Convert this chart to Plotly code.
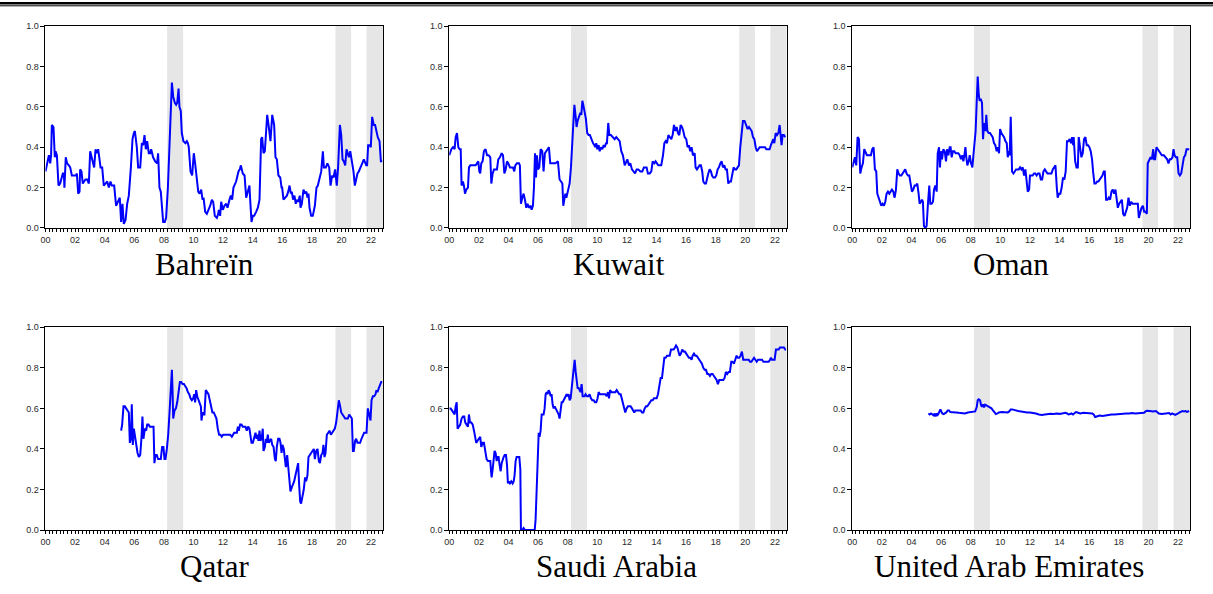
import plotly.graph_objects as go

# Monthly index of (decimal year, value) observations per country
BAHRAIN = [
    (2000.00, 0.28), (2000.09, 0.32), (2000.23, 0.36), (2000.32, 0.32), (2000.38, 0.36), (2000.43, 0.51),
    (2000.54, 0.50), (2000.63, 0.35), (2000.68, 0.38), (2000.77, 0.36), (2000.88, 0.21), (2000.99, 0.22),
    (2001.08, 0.25), (2001.17, 0.27), (2001.24, 0.27), (2001.28, 0.20), (2001.37, 0.35), (2001.46, 0.32),
    (2001.58, 0.31), (2001.67, 0.30), (2001.78, 0.26), (2001.96, 0.26), (2002.07, 0.26), (2002.12, 0.27),
    (2002.21, 0.17), (2002.30, 0.18), (2002.34, 0.29), (2002.43, 0.28), (2002.52, 0.22), (2002.61, 0.23),
    (2002.70, 0.24), (2002.82, 0.24), (2002.93, 0.22), (2003.02, 0.38), (2003.13, 0.35), (2003.22, 0.33),
    (2003.29, 0.30), (2003.38, 0.39), (2003.47, 0.37), (2003.56, 0.39), (2003.65, 0.35), (2003.72, 0.30),
    (2003.83, 0.30), (2003.94, 0.21), (2004.05, 0.22), (2004.17, 0.23), (2004.28, 0.20), (2004.39, 0.23),
    (2004.48, 0.21), (2004.64, 0.21), (2004.77, 0.11), (2004.91, 0.13), (2005.02, 0.15), (2005.11, 0.03),
    (2005.20, 0.12), (2005.29, 0.02), (2005.41, 0.04), (2005.52, 0.12), (2005.63, 0.16), (2005.77, 0.30),
    (2005.88, 0.44), (2005.97, 0.47), (2006.04, 0.48), (2006.17, 0.40), (2006.26, 0.30), (2006.40, 0.30),
    (2006.51, 0.42), (2006.60, 0.41), (2006.69, 0.46), (2006.78, 0.39), (2006.87, 0.43), (2006.98, 0.37),
    (2007.07, 0.37), (2007.14, 0.39), (2007.27, 0.35), (2007.41, 0.33), (2007.54, 0.32), (2007.61, 0.37),
    (2007.70, 0.20), (2007.79, 0.18), (2007.86, 0.10), (2007.95, 0.03), (2008.06, 0.03), (2008.15, 0.05),
    (2008.27, 0.20), (2008.38, 0.45), (2008.54, 0.72), (2008.63, 0.65), (2008.74, 0.62), (2008.83, 0.61),
    (2008.90, 0.62), (2008.99, 0.69), (2009.05, 0.60), (2009.14, 0.58), (2009.21, 0.47), (2009.32, 0.43),
    (2009.46, 0.42), (2009.55, 0.43), (2009.62, 0.42), (2009.68, 0.40), (2009.80, 0.28), (2009.91, 0.26),
    (2010.02, 0.37), (2010.11, 0.32), (2010.20, 0.25), (2010.32, 0.18), (2010.41, 0.17), (2010.52, 0.19),
    (2010.61, 0.14), (2010.68, 0.15), (2010.79, 0.08), (2010.90, 0.07), (2011.01, 0.09), (2011.13, 0.11),
    (2011.24, 0.14), (2011.33, 0.13), (2011.44, 0.06), (2011.58, 0.05), (2011.67, 0.07), (2011.71, 0.09),
    (2011.80, 0.06), (2011.87, 0.13), (2011.98, 0.09), (2012.09, 0.11), (2012.21, 0.12), (2012.30, 0.10),
    (2012.43, 0.14), (2012.52, 0.16), (2012.61, 0.14), (2012.70, 0.20), (2012.88, 0.23), (2013.04, 0.28),
    (2013.13, 0.29), (2013.20, 0.31), (2013.33, 0.27), (2013.45, 0.26), (2013.56, 0.15), (2013.67, 0.18),
    (2013.78, 0.21), (2013.83, 0.14), (2013.92, 0.03), (2014.01, 0.06), (2014.10, 0.06), (2014.23, 0.08),
    (2014.35, 0.10), (2014.46, 0.14), (2014.57, 0.44), (2014.64, 0.45), (2014.73, 0.37), (2014.82, 0.38),
    (2014.89, 0.45), (2014.98, 0.56), (2015.09, 0.50), (2015.20, 0.43), (2015.32, 0.56), (2015.45, 0.51),
    (2015.54, 0.35), (2015.63, 0.34), (2015.74, 0.26), (2015.86, 0.25), (2015.95, 0.20), (2015.99, 0.20),
    (2016.08, 0.14), (2016.22, 0.15), (2016.31, 0.16), (2016.40, 0.18), (2016.49, 0.21), (2016.58, 0.17),
    (2016.64, 0.18), (2016.73, 0.14), (2016.82, 0.16), (2016.91, 0.12), (2017.00, 0.14), (2017.09, 0.13),
    (2017.18, 0.16), (2017.23, 0.10), (2017.32, 0.12), (2017.43, 0.19), (2017.54, 0.17), (2017.63, 0.18),
    (2017.70, 0.15), (2017.77, 0.17), (2017.84, 0.10), (2017.95, 0.06), (2018.06, 0.06), (2018.20, 0.11),
    (2018.31, 0.20), (2018.40, 0.21), (2018.51, 0.25), (2018.63, 0.28), (2018.74, 0.38), (2018.81, 0.30),
    (2018.94, 0.30), (2019.05, 0.32), (2019.17, 0.30), (2019.26, 0.21), (2019.37, 0.26), (2019.46, 0.25),
    (2019.57, 0.29), (2019.68, 0.21), (2019.77, 0.30), (2019.89, 0.51), (2019.98, 0.46), (2020.07, 0.34),
    (2020.16, 0.33), (2020.25, 0.31), (2020.34, 0.39), (2020.43, 0.37), (2020.50, 0.35), (2020.59, 0.38),
    (2020.70, 0.33), (2020.81, 0.28), (2020.90, 0.21), (2020.99, 0.24), (2021.08, 0.27), (2021.17, 0.28),
    (2021.26, 0.30), (2021.40, 0.32), (2021.51, 0.34), (2021.58, 0.33), (2021.67, 0.31), (2021.73, 0.31),
    (2021.80, 0.41), (2021.91, 0.41), (2021.98, 0.40), (2022.07, 0.55), (2022.18, 0.51), (2022.27, 0.51),
    (2022.36, 0.47), (2022.45, 0.45), (2022.57, 0.43), (2022.66, 0.33), (2022.75, 0.33),
]

KUWAIT = [
    (2000.00, 0.36), (2000.14, 0.39), (2000.25, 0.40), (2000.36, 0.39), (2000.43, 0.45), (2000.52, 0.47),
    (2000.61, 0.40), (2000.70, 0.39), (2000.77, 0.39), (2000.83, 0.21), (2000.92, 0.23), (2000.99, 0.21),
    (2001.06, 0.17), (2001.15, 0.19), (2001.26, 0.20), (2001.33, 0.30), (2001.42, 0.31), (2001.60, 0.31),
    (2001.78, 0.31), (2001.87, 0.32), (2001.96, 0.33), (2002.03, 0.28), (2002.09, 0.27), (2002.16, 0.32),
    (2002.25, 0.33), (2002.34, 0.38), (2002.45, 0.39), (2002.55, 0.36), (2002.66, 0.36), (2002.77, 0.35),
    (2002.84, 0.22), (2002.93, 0.27), (2003.02, 0.29), (2003.11, 0.29), (2003.22, 0.29), (2003.31, 0.34),
    (2003.42, 0.35), (2003.54, 0.37), (2003.63, 0.36), (2003.72, 0.27), (2003.81, 0.29), (2003.90, 0.33),
    (2003.99, 0.32), (2004.10, 0.30), (2004.19, 0.30), (2004.30, 0.30), (2004.39, 0.28), (2004.46, 0.31),
    (2004.57, 0.32), (2004.71, 0.32), (2004.77, 0.31), (2004.84, 0.12), (2004.93, 0.15), (2005.02, 0.17),
    (2005.11, 0.14), (2005.20, 0.10), (2005.29, 0.12), (2005.38, 0.10), (2005.50, 0.11), (2005.56, 0.09),
    (2005.65, 0.11), (2005.72, 0.20), (2005.79, 0.37), (2005.86, 0.25), (2005.92, 0.36), (2005.99, 0.29),
    (2006.08, 0.30), (2006.17, 0.39), (2006.28, 0.38), (2006.37, 0.28), (2006.46, 0.37), (2006.55, 0.38),
    (2006.64, 0.39), (2006.73, 0.40), (2006.82, 0.32), (2007.00, 0.32), (2007.18, 0.32), (2007.34, 0.33),
    (2007.45, 0.24), (2007.55, 0.23), (2007.64, 0.22), (2007.70, 0.11), (2007.77, 0.14), (2007.84, 0.17),
    (2007.91, 0.15), (2008.02, 0.18), (2008.13, 0.22), (2008.22, 0.30), (2008.31, 0.45), (2008.38, 0.53),
    (2008.45, 0.61), (2008.54, 0.55), (2008.60, 0.50), (2008.67, 0.53), (2008.76, 0.55), (2008.85, 0.57),
    (2008.92, 0.56), (2008.99, 0.63), (2009.05, 0.61), (2009.14, 0.57), (2009.23, 0.54), (2009.32, 0.47),
    (2009.41, 0.46), (2009.50, 0.46), (2009.59, 0.44), (2009.71, 0.42), (2009.80, 0.41), (2009.86, 0.40),
    (2009.93, 0.42), (2010.00, 0.39), (2010.09, 0.41), (2010.16, 0.38), (2010.25, 0.40), (2010.34, 0.39),
    (2010.43, 0.41), (2010.50, 0.40), (2010.59, 0.42), (2010.65, 0.42), (2010.74, 0.52), (2010.81, 0.46),
    (2010.92, 0.46), (2011.06, 0.45), (2011.17, 0.44), (2011.28, 0.45), (2011.42, 0.44), (2011.51, 0.43),
    (2011.62, 0.38), (2011.73, 0.36), (2011.85, 0.31), (2011.94, 0.33), (2012.03, 0.34), (2012.14, 0.31),
    (2012.23, 0.32), (2012.34, 0.29), (2012.45, 0.28), (2012.55, 0.27), (2012.66, 0.29), (2012.77, 0.29),
    (2012.91, 0.28), (2013.04, 0.28), (2013.15, 0.30), (2013.24, 0.30), (2013.33, 0.30), (2013.42, 0.27),
    (2013.54, 0.27), (2013.65, 0.28), (2013.74, 0.33), (2013.85, 0.32), (2013.94, 0.33), (2014.03, 0.32),
    (2014.12, 0.31), (2014.21, 0.31), (2014.32, 0.31), (2014.44, 0.36), (2014.53, 0.42), (2014.62, 0.43),
    (2014.71, 0.42), (2014.80, 0.46), (2014.89, 0.45), (2015.00, 0.44), (2015.09, 0.46), (2015.18, 0.51),
    (2015.27, 0.48), (2015.36, 0.50), (2015.45, 0.47), (2015.54, 0.46), (2015.63, 0.51), (2015.72, 0.50),
    (2015.81, 0.48), (2015.90, 0.45), (2016.01, 0.44), (2016.10, 0.40), (2016.19, 0.41), (2016.28, 0.38),
    (2016.37, 0.40), (2016.46, 0.36), (2016.58, 0.37), (2016.64, 0.30), (2016.73, 0.29), (2016.82, 0.30),
    (2016.91, 0.31), (2017.00, 0.31), (2017.09, 0.28), (2017.16, 0.23), (2017.25, 0.22), (2017.34, 0.22),
    (2017.41, 0.25), (2017.50, 0.27), (2017.59, 0.29), (2017.68, 0.28), (2017.75, 0.26), (2017.84, 0.25),
    (2017.95, 0.25), (2018.04, 0.26), (2018.13, 0.29), (2018.22, 0.30), (2018.31, 0.32), (2018.40, 0.33),
    (2018.49, 0.30), (2018.58, 0.31), (2018.67, 0.29), (2018.76, 0.29), (2018.85, 0.22), (2018.94, 0.23),
    (2019.03, 0.23), (2019.12, 0.27), (2019.21, 0.30), (2019.30, 0.29), (2019.39, 0.29), (2019.48, 0.30),
    (2019.57, 0.31), (2019.66, 0.40), (2019.75, 0.49), (2019.84, 0.53), (2019.95, 0.53), (2020.07, 0.51),
    (2020.16, 0.49), (2020.25, 0.50), (2020.34, 0.49), (2020.43, 0.48), (2020.52, 0.45), (2020.61, 0.44),
    (2020.70, 0.40), (2020.79, 0.38), (2020.88, 0.39), (2020.97, 0.40), (2021.15, 0.40), (2021.33, 0.40),
    (2021.42, 0.39), (2021.53, 0.39), (2021.64, 0.39), (2021.73, 0.41), (2021.82, 0.43), (2021.89, 0.44),
    (2021.96, 0.42), (2022.05, 0.47), (2022.14, 0.46), (2022.23, 0.47), (2022.32, 0.51), (2022.39, 0.45),
    (2022.45, 0.41), (2022.52, 0.46), (2022.61, 0.46), (2022.70, 0.45),
]

OMAN = [
    (2000.00, 0.30), (2000.09, 0.33), (2000.18, 0.35), (2000.27, 0.31), (2000.36, 0.45), (2000.45, 0.44),
    (2000.54, 0.27), (2000.63, 0.30), (2000.72, 0.32), (2000.81, 0.39), (2000.90, 0.37), (2000.99, 0.36),
    (2001.08, 0.36), (2001.17, 0.36), (2001.26, 0.36), (2001.35, 0.39), (2001.44, 0.40), (2001.53, 0.29),
    (2001.62, 0.28), (2001.69, 0.17), (2001.78, 0.15), (2001.87, 0.13), (2001.96, 0.11), (2002.05, 0.12),
    (2002.14, 0.11), (2002.23, 0.13), (2002.32, 0.17), (2002.41, 0.18), (2002.50, 0.17), (2002.59, 0.18),
    (2002.68, 0.19), (2002.77, 0.18), (2002.86, 0.15), (2002.95, 0.19), (2003.04, 0.29), (2003.13, 0.27),
    (2003.22, 0.26), (2003.31, 0.26), (2003.40, 0.27), (2003.49, 0.28), (2003.58, 0.29), (2003.67, 0.27),
    (2003.76, 0.26), (2003.85, 0.26), (2003.94, 0.22), (2004.03, 0.18), (2004.12, 0.19), (2004.21, 0.21),
    (2004.30, 0.21), (2004.39, 0.22), (2004.48, 0.17), (2004.55, 0.12), (2004.64, 0.13), (2004.71, 0.14),
    (2004.77, 0.13), (2004.84, 0.01), (2004.93, 0.00), (2005.02, 0.01), (2005.11, 0.12), (2005.20, 0.21),
    (2005.27, 0.12), (2005.36, 0.12), (2005.45, 0.13), (2005.52, 0.19), (2005.61, 0.21), (2005.70, 0.18),
    (2005.77, 0.37), (2005.86, 0.40), (2005.92, 0.30), (2005.99, 0.38), (2006.06, 0.34), (2006.15, 0.39),
    (2006.24, 0.38), (2006.33, 0.33), (2006.40, 0.39), (2006.49, 0.36), (2006.58, 0.40), (2006.64, 0.40),
    (2006.71, 0.35), (2006.80, 0.38), (2006.89, 0.38), (2006.98, 0.37), (2007.07, 0.37), (2007.16, 0.37),
    (2007.25, 0.36), (2007.34, 0.34), (2007.43, 0.36), (2007.50, 0.33), (2007.57, 0.36), (2007.64, 0.40),
    (2007.70, 0.35), (2007.77, 0.31), (2007.86, 0.33), (2007.93, 0.36), (2008.02, 0.32), (2008.11, 0.30),
    (2008.18, 0.36), (2008.24, 0.40), (2008.33, 0.48), (2008.40, 0.62), (2008.47, 0.75), (2008.54, 0.66),
    (2008.60, 0.63), (2008.67, 0.64), (2008.76, 0.62), (2008.83, 0.44), (2008.90, 0.52), (2008.99, 0.48),
    (2009.05, 0.56), (2009.12, 0.48), (2009.21, 0.47), (2009.30, 0.47), (2009.39, 0.46), (2009.48, 0.45),
    (2009.57, 0.42), (2009.66, 0.41), (2009.75, 0.38), (2009.84, 0.40), (2009.91, 0.37), (2009.98, 0.49),
    (2010.07, 0.47), (2010.16, 0.46), (2010.25, 0.45), (2010.34, 0.43), (2010.43, 0.42), (2010.50, 0.35),
    (2010.56, 0.38), (2010.63, 0.36), (2010.70, 0.55), (2010.79, 0.28), (2010.88, 0.27), (2010.97, 0.28),
    (2011.06, 0.29), (2011.15, 0.29), (2011.24, 0.29), (2011.33, 0.30), (2011.42, 0.29), (2011.51, 0.30),
    (2011.60, 0.26), (2011.69, 0.29), (2011.76, 0.23), (2011.85, 0.18), (2011.94, 0.19), (2012.00, 0.26),
    (2012.09, 0.26), (2012.18, 0.26), (2012.27, 0.27), (2012.36, 0.27), (2012.45, 0.26), (2012.54, 0.27),
    (2012.64, 0.27), (2012.73, 0.24), (2012.82, 0.24), (2012.91, 0.28), (2013.00, 0.29), (2013.09, 0.28),
    (2013.18, 0.27), (2013.27, 0.27), (2013.36, 0.27), (2013.45, 0.27), (2013.54, 0.29), (2013.63, 0.30),
    (2013.72, 0.31), (2013.81, 0.20), (2013.87, 0.15), (2013.96, 0.17), (2014.05, 0.17), (2014.14, 0.20),
    (2014.23, 0.25), (2014.32, 0.24), (2014.41, 0.28), (2014.50, 0.43), (2014.59, 0.43), (2014.68, 0.44),
    (2014.77, 0.42), (2014.84, 0.45), (2014.91, 0.41), (2014.95, 0.45), (2015.05, 0.33), (2015.14, 0.30),
    (2015.23, 0.30), (2015.29, 0.45), (2015.38, 0.40), (2015.47, 0.35), (2015.56, 0.37), (2015.65, 0.44),
    (2015.74, 0.45), (2015.83, 0.41), (2015.92, 0.41), (2016.01, 0.40), (2016.10, 0.38), (2016.19, 0.34),
    (2016.26, 0.28), (2016.35, 0.22), (2016.44, 0.22), (2016.53, 0.23), (2016.62, 0.23), (2016.71, 0.24),
    (2016.80, 0.25), (2016.89, 0.26), (2016.98, 0.28), (2017.05, 0.28), (2017.14, 0.14), (2017.23, 0.14),
    (2017.32, 0.15), (2017.41, 0.14), (2017.50, 0.18), (2017.59, 0.19), (2017.68, 0.17), (2017.77, 0.19),
    (2017.84, 0.15), (2017.93, 0.10), (2018.02, 0.12), (2018.11, 0.13), (2018.20, 0.14), (2018.29, 0.07),
    (2018.38, 0.06), (2018.47, 0.08), (2018.56, 0.10), (2018.65, 0.15), (2018.74, 0.11), (2018.83, 0.13),
    (2018.92, 0.12), (2019.01, 0.12), (2019.10, 0.12), (2019.19, 0.12), (2019.28, 0.12), (2019.35, 0.05),
    (2019.44, 0.08), (2019.53, 0.10), (2019.62, 0.11), (2019.71, 0.08), (2019.80, 0.08), (2019.89, 0.07),
    (2019.95, 0.32), (2020.05, 0.34), (2020.14, 0.35), (2020.23, 0.34), (2020.32, 0.39), (2020.38, 0.34),
    (2020.45, 0.34), (2020.54, 0.40), (2020.63, 0.39), (2020.72, 0.38), (2020.81, 0.37), (2020.90, 0.36),
    (2021.04, 0.36), (2021.17, 0.35), (2021.26, 0.34), (2021.35, 0.32), (2021.44, 0.34), (2021.53, 0.34),
    (2021.62, 0.35), (2021.69, 0.39), (2021.76, 0.36), (2021.85, 0.35), (2021.94, 0.35), (2022.03, 0.27),
    (2022.12, 0.26), (2022.21, 0.27), (2022.30, 0.31), (2022.39, 0.35), (2022.48, 0.36), (2022.57, 0.39),
    (2022.66, 0.39), (2022.75, 0.39),
]

QATAR = [
    (2005.11, 0.49), (2005.18, 0.52), (2005.27, 0.61), (2005.36, 0.61), (2005.45, 0.60), (2005.54, 0.59),
    (2005.63, 0.58), (2005.70, 0.43), (2005.77, 0.45), (2005.83, 0.62), (2005.90, 0.42), (2005.97, 0.50),
    (2006.04, 0.46), (2006.13, 0.42), (2006.22, 0.38), (2006.31, 0.36), (2006.40, 0.37), (2006.49, 0.46),
    (2006.55, 0.56), (2006.62, 0.45), (2006.71, 0.50), (2006.80, 0.49), (2006.87, 0.52), (2006.96, 0.52),
    (2007.05, 0.51), (2007.14, 0.51), (2007.23, 0.51), (2007.30, 0.51), (2007.36, 0.33), (2007.43, 0.37),
    (2007.52, 0.37), (2007.61, 0.35), (2007.70, 0.35), (2007.79, 0.35), (2007.88, 0.41), (2007.97, 0.41),
    (2008.04, 0.35), (2008.11, 0.35), (2008.20, 0.40), (2008.29, 0.47), (2008.38, 0.58), (2008.47, 0.75),
    (2008.54, 0.79), (2008.58, 0.70), (2008.63, 0.55), (2008.72, 0.59), (2008.81, 0.60), (2008.90, 0.63),
    (2008.99, 0.67), (2009.08, 0.73), (2009.17, 0.73), (2009.26, 0.72), (2009.35, 0.72), (2009.44, 0.71),
    (2009.53, 0.70), (2009.62, 0.68), (2009.71, 0.67), (2009.80, 0.65), (2009.89, 0.64), (2009.98, 0.65),
    (2010.05, 0.67), (2010.11, 0.63), (2010.18, 0.69), (2010.25, 0.66), (2010.34, 0.64), (2010.41, 0.62),
    (2010.50, 0.61), (2010.54, 0.54), (2010.61, 0.58), (2010.68, 0.57), (2010.74, 0.57), (2010.83, 0.69),
    (2010.92, 0.68), (2011.01, 0.67), (2011.10, 0.64), (2011.19, 0.60), (2011.28, 0.58), (2011.37, 0.58),
    (2011.46, 0.56), (2011.55, 0.55), (2011.64, 0.50), (2011.73, 0.47), (2011.82, 0.47), (2011.91, 0.46),
    (2012.00, 0.47), (2012.09, 0.47), (2012.21, 0.47), (2012.34, 0.47), (2012.48, 0.47), (2012.59, 0.46),
    (2012.66, 0.47), (2012.75, 0.48), (2012.84, 0.48), (2012.93, 0.48), (2013.00, 0.51), (2013.06, 0.49),
    (2013.15, 0.52), (2013.24, 0.52), (2013.33, 0.51), (2013.42, 0.51), (2013.51, 0.51), (2013.60, 0.49),
    (2013.69, 0.51), (2013.78, 0.50), (2013.85, 0.45), (2013.92, 0.43), (2014.01, 0.43), (2014.10, 0.46),
    (2014.19, 0.48), (2014.26, 0.45), (2014.32, 0.47), (2014.39, 0.44), (2014.46, 0.49), (2014.53, 0.44),
    (2014.62, 0.46), (2014.68, 0.50), (2014.73, 0.39), (2014.82, 0.41), (2014.89, 0.45), (2014.95, 0.43),
    (2015.02, 0.47), (2015.09, 0.43), (2015.16, 0.44), (2015.25, 0.45), (2015.32, 0.42), (2015.41, 0.41),
    (2015.50, 0.35), (2015.56, 0.34), (2015.63, 0.41), (2015.72, 0.45), (2015.81, 0.45), (2015.88, 0.43),
    (2015.95, 0.38), (2016.01, 0.42), (2016.10, 0.40), (2016.17, 0.33), (2016.24, 0.31), (2016.33, 0.37),
    (2016.40, 0.31), (2016.49, 0.26), (2016.55, 0.19), (2016.64, 0.21), (2016.71, 0.22), (2016.80, 0.24),
    (2016.89, 0.27), (2016.98, 0.31), (2017.07, 0.33), (2017.14, 0.22), (2017.21, 0.14), (2017.27, 0.13),
    (2017.36, 0.16), (2017.45, 0.20), (2017.54, 0.26), (2017.61, 0.24), (2017.70, 0.27), (2017.77, 0.36),
    (2017.86, 0.37), (2017.95, 0.38), (2018.04, 0.39), (2018.13, 0.40), (2018.20, 0.35), (2018.29, 0.39),
    (2018.38, 0.40), (2018.47, 0.34), (2018.54, 0.33), (2018.63, 0.37), (2018.72, 0.38), (2018.78, 0.42),
    (2018.85, 0.36), (2018.92, 0.38), (2019.01, 0.47), (2019.10, 0.48), (2019.19, 0.49), (2019.28, 0.47),
    (2019.37, 0.48), (2019.46, 0.49), (2019.55, 0.50), (2019.64, 0.53), (2019.73, 0.58), (2019.82, 0.64),
    (2019.91, 0.61), (2019.98, 0.58), (2020.07, 0.57), (2020.16, 0.56), (2020.25, 0.55), (2020.34, 0.55),
    (2020.43, 0.55), (2020.52, 0.57), (2020.61, 0.56), (2020.70, 0.55), (2020.77, 0.39), (2020.83, 0.39),
    (2020.92, 0.44), (2020.99, 0.45), (2021.08, 0.43), (2021.17, 0.43), (2021.26, 0.43), (2021.35, 0.45),
    (2021.44, 0.47), (2021.53, 0.48), (2021.62, 0.48), (2021.69, 0.48), (2021.78, 0.60), (2021.87, 0.57),
    (2021.96, 0.54), (2022.03, 0.64), (2022.12, 0.66), (2022.21, 0.66), (2022.30, 0.67), (2022.36, 0.69),
    (2022.43, 0.68), (2022.52, 0.70), (2022.61, 0.72), (2022.68, 0.73), (2022.75, 0.73),
]

SAUDI_ARABIA = [
    (2000.00, 0.60), (2000.09, 0.60), (2000.18, 0.59), (2000.27, 0.58), (2000.36, 0.57), (2000.43, 0.61),
    (2000.50, 0.63), (2000.56, 0.50), (2000.65, 0.51), (2000.74, 0.52), (2000.83, 0.55), (2000.92, 0.56),
    (2001.01, 0.56), (2001.08, 0.53), (2001.17, 0.52), (2001.26, 0.51), (2001.33, 0.57), (2001.40, 0.53),
    (2001.49, 0.53), (2001.58, 0.52), (2001.67, 0.49), (2001.76, 0.46), (2001.82, 0.43), (2001.91, 0.44),
    (2002.00, 0.45), (2002.09, 0.46), (2002.16, 0.41), (2002.25, 0.43), (2002.34, 0.43), (2002.43, 0.39),
    (2002.52, 0.35), (2002.61, 0.34), (2002.70, 0.34), (2002.77, 0.34), (2002.82, 0.29), (2002.86, 0.26),
    (2002.93, 0.30), (2003.00, 0.34), (2003.06, 0.39), (2003.13, 0.38), (2003.20, 0.34), (2003.27, 0.36),
    (2003.33, 0.36), (2003.40, 0.32), (2003.47, 0.29), (2003.54, 0.33), (2003.60, 0.35), (2003.67, 0.36),
    (2003.74, 0.37), (2003.83, 0.37), (2003.90, 0.32), (2003.96, 0.23), (2004.03, 0.24), (2004.10, 0.23),
    (2004.19, 0.24), (2004.28, 0.23), (2004.35, 0.24), (2004.41, 0.27), (2004.48, 0.34), (2004.55, 0.36),
    (2004.64, 0.36), (2004.73, 0.36), (2004.80, 0.30), (2004.84, 0.00), (2004.93, 0.00), (2005.02, 0.01),
    (2005.11, 0.00), (2005.23, 0.00), (2005.34, 0.00), (2005.45, 0.00), (2005.56, 0.00), (2005.68, 0.00),
    (2005.77, 0.00), (2005.83, 0.05), (2005.90, 0.20), (2005.97, 0.41), (2006.04, 0.48), (2006.10, 0.46),
    (2006.17, 0.49), (2006.24, 0.57), (2006.31, 0.57), (2006.37, 0.57), (2006.44, 0.60), (2006.51, 0.67),
    (2006.58, 0.68), (2006.64, 0.67), (2006.71, 0.69), (2006.78, 0.68), (2006.85, 0.66), (2006.91, 0.67),
    (2006.98, 0.62), (2007.05, 0.60), (2007.12, 0.61), (2007.18, 0.60), (2007.25, 0.59), (2007.32, 0.58),
    (2007.39, 0.57), (2007.45, 0.55), (2007.52, 0.58), (2007.59, 0.63), (2007.66, 0.63), (2007.73, 0.64),
    (2007.79, 0.65), (2007.86, 0.66), (2007.93, 0.67), (2008.00, 0.66), (2008.06, 0.67), (2008.13, 0.64),
    (2008.20, 0.65), (2008.27, 0.70), (2008.33, 0.75), (2008.40, 0.80), (2008.47, 0.84), (2008.54, 0.78),
    (2008.60, 0.72), (2008.67, 0.70), (2008.74, 0.70), (2008.81, 0.69), (2008.87, 0.68), (2008.94, 0.72),
    (2009.01, 0.66), (2009.08, 0.66), (2009.14, 0.66), (2009.21, 0.67), (2009.30, 0.66), (2009.39, 0.66),
    (2009.48, 0.67), (2009.57, 0.65), (2009.66, 0.64), (2009.75, 0.64), (2009.84, 0.63), (2009.93, 0.63),
    (2010.02, 0.65), (2010.09, 0.68), (2010.18, 0.67), (2010.27, 0.67), (2010.36, 0.67), (2010.45, 0.67),
    (2010.54, 0.67), (2010.63, 0.66), (2010.72, 0.68), (2010.79, 0.65), (2010.86, 0.69), (2010.95, 0.68),
    (2011.04, 0.68), (2011.13, 0.68), (2011.22, 0.68), (2011.31, 0.69), (2011.40, 0.68), (2011.49, 0.67),
    (2011.58, 0.67), (2011.67, 0.64), (2011.76, 0.62), (2011.82, 0.59), (2011.89, 0.58), (2011.98, 0.60),
    (2012.07, 0.61), (2012.16, 0.61), (2012.25, 0.61), (2012.34, 0.60), (2012.43, 0.59), (2012.50, 0.58),
    (2012.57, 0.59), (2012.66, 0.59), (2012.75, 0.59), (2012.84, 0.59), (2012.93, 0.59), (2013.02, 0.58),
    (2013.11, 0.58), (2013.20, 0.60), (2013.29, 0.61), (2013.38, 0.61), (2013.47, 0.62), (2013.56, 0.63),
    (2013.65, 0.64), (2013.74, 0.64), (2013.83, 0.65), (2013.92, 0.65), (2014.01, 0.65), (2014.10, 0.67),
    (2014.19, 0.72), (2014.28, 0.75), (2014.37, 0.75), (2014.46, 0.80), (2014.53, 0.85), (2014.62, 0.85),
    (2014.71, 0.86), (2014.80, 0.86), (2014.89, 0.86), (2014.98, 0.89), (2015.07, 0.89), (2015.16, 0.89),
    (2015.25, 0.90), (2015.32, 0.91), (2015.41, 0.90), (2015.50, 0.88), (2015.56, 0.86), (2015.65, 0.87),
    (2015.74, 0.89), (2015.83, 0.88), (2015.92, 0.88), (2016.01, 0.87), (2016.10, 0.86), (2016.19, 0.85),
    (2016.28, 0.85), (2016.37, 0.84), (2016.44, 0.86), (2016.53, 0.87), (2016.62, 0.86), (2016.71, 0.86),
    (2016.80, 0.85), (2016.89, 0.84), (2016.98, 0.83), (2017.07, 0.82), (2017.16, 0.80), (2017.25, 0.79),
    (2017.34, 0.79), (2017.43, 0.77), (2017.52, 0.77), (2017.61, 0.76), (2017.70, 0.77), (2017.79, 0.77),
    (2017.88, 0.76), (2017.97, 0.75), (2018.06, 0.74), (2018.15, 0.72), (2018.24, 0.74), (2018.33, 0.74),
    (2018.42, 0.74), (2018.51, 0.74), (2018.60, 0.75), (2018.69, 0.78), (2018.78, 0.77), (2018.87, 0.78),
    (2018.96, 0.78), (2019.05, 0.83), (2019.14, 0.83), (2019.23, 0.82), (2019.32, 0.84), (2019.41, 0.86),
    (2019.50, 0.85), (2019.59, 0.85), (2019.68, 0.86), (2019.77, 0.88), (2019.86, 0.84), (2019.95, 0.84),
    (2020.05, 0.84), (2020.14, 0.84), (2020.23, 0.84), (2020.32, 0.83), (2020.41, 0.83), (2020.50, 0.84),
    (2020.59, 0.85), (2020.68, 0.84), (2020.77, 0.83), (2020.86, 0.84), (2020.95, 0.84), (2021.04, 0.84),
    (2021.13, 0.84), (2021.22, 0.83), (2021.31, 0.83), (2021.40, 0.83), (2021.49, 0.83), (2021.58, 0.83),
    (2021.67, 0.84), (2021.73, 0.85), (2021.80, 0.84), (2021.89, 0.84), (2021.98, 0.84), (2022.07, 0.89),
    (2022.16, 0.89), (2022.25, 0.89), (2022.34, 0.90), (2022.43, 0.90), (2022.52, 0.90), (2022.61, 0.90),
    (2022.70, 0.89), (2022.75, 0.89),
]

UNITED_ARAB_EMIRATES = [
    (2005.14, 0.575), (2005.23, 0.570), (2005.32, 0.575), (2005.41, 0.572), (2005.50, 0.565), (2005.56, 0.575),
    (2005.63, 0.560), (2005.70, 0.575), (2005.77, 0.568), (2005.86, 0.580), (2005.95, 0.595), (2006.01, 0.585),
    (2006.08, 0.575), (2006.17, 0.572), (2006.26, 0.575), (2006.35, 0.580), (2006.44, 0.590), (2006.53, 0.590),
    (2006.62, 0.582), (2006.80, 0.582), (2007.00, 0.580), (2007.20, 0.578), (2007.40, 0.578), (2007.60, 0.575),
    (2007.80, 0.580), (2008.00, 0.582), (2008.20, 0.582), (2008.30, 0.585), (2008.40, 0.605), (2008.47, 0.640),
    (2008.54, 0.645), (2008.63, 0.640), (2008.70, 0.615), (2008.76, 0.608), (2008.83, 0.620), (2008.90, 0.605),
    (2008.97, 0.618), (2009.05, 0.615), (2009.20, 0.610), (2009.30, 0.605), (2009.40, 0.600), (2009.50, 0.590),
    (2009.60, 0.578), (2009.70, 0.572), (2009.80, 0.575), (2009.90, 0.580), (2010.10, 0.582), (2010.30, 0.582),
    (2010.50, 0.580), (2010.60, 0.585), (2010.70, 0.595), (2010.80, 0.595), (2011.00, 0.590), (2011.20, 0.587),
    (2011.40, 0.585), (2011.60, 0.582), (2011.80, 0.580), (2012.00, 0.580), (2012.20, 0.578), (2012.40, 0.575),
    (2012.60, 0.570), (2012.80, 0.568), (2013.00, 0.570), (2013.20, 0.572), (2013.40, 0.573), (2013.60, 0.572),
    (2013.80, 0.575), (2014.00, 0.573), (2014.20, 0.575), (2014.40, 0.578), (2014.50, 0.575), (2014.60, 0.570),
    (2014.70, 0.572), (2014.80, 0.575), (2014.90, 0.570), (2015.00, 0.575), (2015.10, 0.582), (2015.20, 0.580),
    (2015.30, 0.578), (2015.40, 0.575), (2015.60, 0.578), (2015.80, 0.577), (2016.00, 0.577), (2016.20, 0.575),
    (2016.30, 0.570), (2016.40, 0.557), (2016.50, 0.560), (2016.70, 0.565), (2016.90, 0.562), (2017.10, 0.565),
    (2017.30, 0.567), (2017.50, 0.570), (2017.70, 0.570), (2017.90, 0.572), (2018.10, 0.572), (2018.30, 0.573),
    (2018.50, 0.575), (2018.70, 0.575), (2018.90, 0.577), (2019.10, 0.575), (2019.30, 0.575), (2019.50, 0.575),
    (2019.70, 0.578), (2019.80, 0.585), (2019.90, 0.588), (2020.10, 0.587), (2020.30, 0.585), (2020.50, 0.587),
    (2020.60, 0.582), (2020.70, 0.575), (2020.90, 0.572), (2021.10, 0.575), (2021.30, 0.575), (2021.40, 0.577),
    (2021.50, 0.570), (2021.60, 0.575), (2021.80, 0.568), (2021.90, 0.570), (2022.00, 0.575), (2022.10, 0.580),
    (2022.20, 0.585), (2022.30, 0.587), (2022.40, 0.585), (2022.50, 0.587), (2022.60, 0.583), (2022.75, 0.587),
]

COUNTRIES = ["Bahreïn", "Kuwait", "Oman", "Qatar", "Saudi Arabia", "United Arab Emirates"]
SERIES = [BAHRAIN, KUWAIT, OMAN, QATAR, SAUDI_ARABIA, UNITED_ARAB_EMIRATES]

# Shaded episodes (decimal years); the last one runs to the end of the sample
SHADED_PERIODS = [(2008.22, 2009.30), (2019.59, 2020.65), (2021.69, 2022.80)]

X_RANGE = [2000.0, 2022.8]
YEAR_TICKS = list(range(2000, 2023))
YEAR_LABELS = [f"{y % 100:02d}" if y % 2 == 0 else "" for y in YEAR_TICKS]
Y_TICKS = [0.0, 0.2, 0.4, 0.6, 0.8, 1.0]
Y_LABELS = ["0.0", "0.2", "0.4", "0.6", "0.8", "1.0"]

# Panel grid (paper fractions)
COL_DOMAINS = [(0.0375, 0.3157), (0.3704, 0.6486), (0.7026, 0.9810)]
ROW_DOMAINS = [(0.6162, 0.9562), (0.1077, 0.4490)]
CAPTION_X = [0.169, 0.510, 0.8335, 0.177, 0.508, 0.832]
CAPTION_Y = [0.554, 0.0455]

TICK_FONT = dict(family="Liberation Sans, Arial, sans-serif", size=9, color="#2a2a2a")
CAPTION_FONT = dict(family="Liberation Serif, Times New Roman, serif", size=31, color="black")

fig = go.Figure()
layout = dict(
    template="none",
    width=1213, height=594, autosize=False,
    margin=dict(l=0, r=0, t=0, b=0, pad=0, autoexpand=False),
    paper_bgcolor="white", plot_bgcolor="white",
    showlegend=False,
    shapes=[], annotations=[],
)

for i, (name, obs) in enumerate(zip(COUNTRIES, SERIES)):
    suffix = "" if i == 0 else str(i + 1)
    row, col = divmod(i, 3)
    xs = [t for t, _ in obs]
    ys = [v for _, v in obs]
    fig.add_trace(go.Scatter(
        x=xs, y=ys, mode="lines", xaxis=f"x{suffix}", yaxis=f"y{suffix}",
        line=dict(color="#0000FF", width=2), hoverinfo="skip",
    ))
    layout[f"xaxis{suffix}"] = dict(
        domain=list(COL_DOMAINS[col]), anchor=f"y{suffix}", range=X_RANGE, automargin=False,
        tickmode="array", tickvals=YEAR_TICKS, ticktext=YEAR_LABELS,
        ticks="outside", ticklen=3, tickwidth=1, tickcolor="black",
        minor=dict(dtick=0.25, tick0=2000, ticks="outside", ticklen=3, tickwidth=1,
                   tickcolor="black", showgrid=False),
        showline=True, linecolor="black", linewidth=1, mirror=True,
        showgrid=False, zeroline=False, tickfont=TICK_FONT,
    )
    layout[f"yaxis{suffix}"] = dict(
        domain=list(ROW_DOMAINS[row]), anchor=f"x{suffix}", range=[0, 1], automargin=False,
        tickmode="array", tickvals=Y_TICKS, ticktext=Y_LABELS,
        ticks="outside", ticklen=4, tickwidth=1, tickcolor="black",
        showline=True, linecolor="black", linewidth=1, mirror=True,
        showgrid=False, zeroline=False, tickfont=TICK_FONT,
    )
    for x0, x1 in SHADED_PERIODS:
        layout["shapes"].append(dict(
            type="rect", xref=f"x{suffix}", yref=f"y{suffix} domain", x0=x0, x1=x1, y0=0, y1=1,
            fillcolor="#E6E6E6", line=dict(width=0), layer="below",
        ))
    layout["annotations"].append(dict(
        text=name, xref="paper", yref="paper", x=CAPTION_X[i], y=CAPTION_Y[row],
        xanchor="center", yanchor="middle", showarrow=False, font=CAPTION_FONT,
    ))

# Double rule across the top of the page
layout["shapes"].append(dict(type="line", xref="paper", yref="paper", x0=0, x1=1,
                             y0=1 - 3.2 / 594, y1=1 - 3.2 / 594, line=dict(color="black", width=2.5)))
layout["shapes"].append(dict(type="line", xref="paper", yref="paper", x0=0, x1=1,
                             y0=1 - 5.8 / 594, y1=1 - 5.8 / 594, line=dict(color="black", width=1)))

fig.update_layout(**layout)
fig.write_html("out.html", post_script="document.body.style.margin='0';")
